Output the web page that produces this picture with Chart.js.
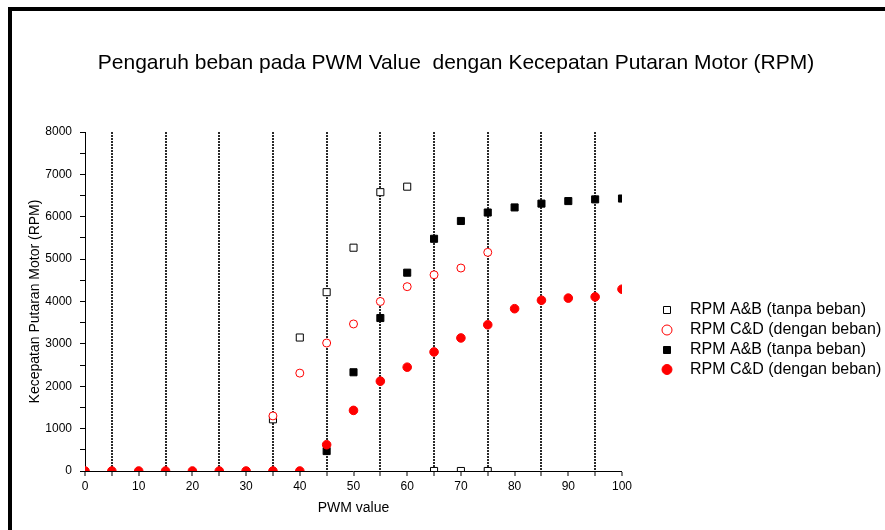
<!DOCTYPE html>
<html lang="id">
<head>
    <meta charset="UTF-8">
    <title>Pengaruh beban pada PWM Value</title>
    <style>
        body {
            margin: 0;
            padding: 0;
            background: #fff;
        }

        #wrap {
            position: relative;
            width: 885px;
            height: 530px;
            overflow: hidden;
        }

        /* thick frame visible on the left and top edge of the original figure */
        #frame {
            position: absolute;
            left: 8px;
            top: 7px;
            right: -20px;
            bottom: -20px;
            border-left: 4px solid #000;
            border-top: 4px solid #000;
            pointer-events: none;
        }
    </style>
</head>
<body>
    <div id="wrap">
        <canvas id="rpmChart" width="885" height="530"></canvas>
        <div id="frame"></div>
    </div>
    <script src="https://cdn.jsdelivr.net/npm/chart.js"></script>
    <script>
        const chartTitle = 'Pengaruh beban pada PWM Value  dengan Kecepatan Putaran Motor (RPM)';
        const xTitle = 'PWM value';
        const yTitle = 'Kecepatan Putaran Motor (RPM)';

        // PWM values 0..100 in steps of 5
        const pwm = [0, 5, 10, 15, 20, 25, 30, 35, 40, 45, 50, 55, 60, 65, 70, 75, 80, 85, 90, 95, 100];

        // RPM A&B (tanpa beban) - open squares
        const rpmAB1 = [null, null, null, null, null, null, null, 1220, 3150, 4220, 5270, 6580, 6710, 0, 0, 0, null, null, null, null, null];
        // RPM C&D (dengan beban) - open circles
        const rpmCD1 = [null, null, null, null, null, null, null, 1300, 2310, 3020, 3470, 4000, 4350, 4630, 4790, 5160, null, null, null, null, null];
        // RPM A&B (tanpa beban) - filled squares
        const rpmAB2 = [null, null, null, null, null, null, null, null, null, 470, 2330, 3610, 4680, 5480, 5900, 6100, 6220, 6310, 6370, 6410, 6430];
        // RPM C&D (dengan beban) - filled circles
        const rpmCD2 = [0, 0, 0, 0, 0, 0, 0, 0, 0, 620, 1430, 2120, 2450, 2810, 3140, 3450, 3830, 4030, 4080, 4110, 4290];

        const legendLabels = [
            'RPM A&B (tanpa beban)',
            'RPM C&D (dengan beban)',
            'RPM A&B (tanpa beban)',
            'RPM C&D (dengan beban)'
        ];

        const fontFamily = '"Liberation Sans", Arial, sans-serif';

        function toPoints(values) {
            const pts = [];
            values.forEach((v, i) => {
                if (v !== null) pts.push({ x: pwm[i], y: v });
            });
            return pts;
        }

        // title + legend drawn by hand so they can sit where the original puts them
        const titleLegendPlugin = {
            id: 'titleLegend',
            afterDraw(chart) {
                const ctx = chart.ctx;
                const area = chart.chartArea;
                ctx.save();
                ctx.fillStyle = '#000';
                ctx.textBaseline = 'middle';

                ctx.font = '21px ' + fontFamily;
                ctx.textAlign = 'center';
                ctx.fillText(chartTitle, 456, 63);

                ctx.font = '16px ' + fontFamily;
                ctx.textAlign = 'left';
                const markX = area.right + 45;
                const textX = area.right + 68;
                const rowY = [310, 330, 350, 369.5];

                chart.data.datasets.forEach((ds, i) => {
                    const y = rowY[i];
                    ctx.lineWidth = 1;
                    ctx.strokeStyle = ds.borderColor;
                    ctx.fillStyle = ds.backgroundColor;
                    ctx.beginPath();
                    if (ds.pointStyle === 'rect') {
                        ctx.rect(markX - 3.5, y - 3.5, 7, 7);
                    } else {
                        ctx.arc(markX, y, 5, 0, Math.PI * 2);
                    }
                    ctx.fill();
                    ctx.stroke();

                    ctx.fillStyle = '#000';
                    ctx.fillText(legendLabels[i], textX, y);
                });
                ctx.restore();
            }
        };

        const ctx = document.getElementById('rpmChart').getContext('2d');
        new Chart(ctx, {
            type: 'scatter',
            data: {
                datasets: [
                    {
                        label: legendLabels[0],
                        data: toPoints(rpmAB1),
                        pointStyle: 'rect',
                        pointRadius: 5,
                        borderWidth: 1,
                        borderColor: '#000',
                        backgroundColor: '#fff',
                        clip: 0,
                        order: 4
                    },
                    {
                        label: legendLabels[1],
                        data: toPoints(rpmCD1),
                        pointStyle: 'circle',
                        pointRadius: 4,
                        borderWidth: 1,
                        borderColor: '#ff0000',
                        backgroundColor: '#fff',
                        clip: 0,
                        order: 3
                    },
                    {
                        label: legendLabels[2],
                        data: toPoints(rpmAB2),
                        pointStyle: 'rect',
                        pointRadius: 5,
                        borderWidth: 1,
                        borderColor: '#000',
                        backgroundColor: '#000',
                        clip: 0,
                        order: 2
                    },
                    {
                        label: legendLabels[3],
                        data: toPoints(rpmCD2),
                        pointStyle: 'circle',
                        pointRadius: 4.3,
                        borderWidth: 1,
                        borderColor: '#ff0000',
                        backgroundColor: '#ff0000',
                        clip: 0,
                        order: 1
                    }
                ]
            },
            options: {
                responsive: false,
                animation: false,
                events: [],
                layout: {
                    padding: { left: 26, right: 263, top: 132, bottom: 11 }
                },
                plugins: {
                    legend: { display: false },
                    title: { display: false },
                    tooltip: { enabled: false }
                },
                scales: {
                    x: {
                        type: 'linear',
                        min: 0,
                        max: 100,
                        afterFit: (scale) => { scale.height = 48; },
                        border: { display: true, color: '#000', width: 1, dash: [2, 1] },
                        grid: {
                            drawOnChartArea: true,
                            drawTicks: true,
                            tickLength: 5,
                            tickColor: '#000',
                            tickWidth: 1,
                            color: (c) => (c.tick && c.tick.value % 10 === 5) ? '#2a2a2a' : 'rgba(0,0,0,0)',
                            lineWidth: (c) => (c.tick && c.tick.value % 10 === 5) ? 2 : 0
                        },
                        ticks: {
                            stepSize: 5,
                            autoSkip: false,
                            maxRotation: 0,
                            padding: 3,
                            color: '#000',
                            font: { family: fontFamily, size: 12 },
                            callback: (v) => (v % 10 === 0 ? v : '')
                        },
                        title: {
                            display: true,
                            text: xTitle,
                            color: '#000',
                            font: { family: fontFamily, size: 14 },
                            padding: { top: 7, bottom: 2 }
                        }
                    },
                    y: {
                        type: 'linear',
                        min: 0,
                        max: 8000,
                        afterFit: (scale) => { scale.width = 59; },
                        border: { display: true, color: '#000', width: 1 },
                        grid: {
                            drawOnChartArea: false,
                            drawTicks: true,
                            tickLength: 5,
                            tickColor: '#000'
                        },
                        ticks: {
                            stepSize: 500,
                            autoSkip: false,
                            padding: 8,
                            color: '#000',
                            font: { family: fontFamily, size: 12 },
                            callback: (v) => (v % 1000 === 0 ? v : '')
                        },
                        title: {
                            display: true,
                            text: yTitle,
                            color: '#000',
                            font: { family: fontFamily, size: 14 },
                            padding: { top: 1, bottom: 1 }
                        }
                    }
                }
            },
            plugins: [titleLegendPlugin]
        });
    </script>
</body>
</html>
